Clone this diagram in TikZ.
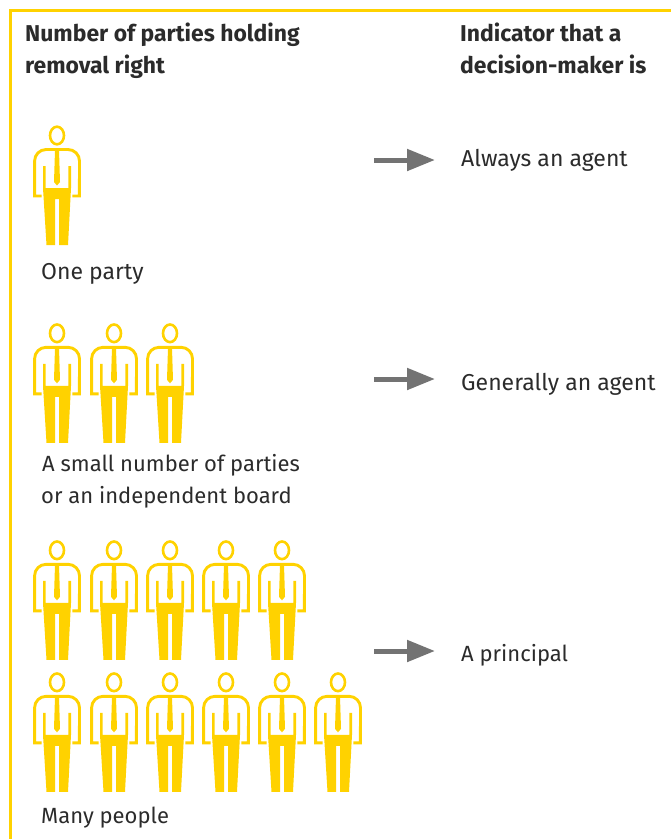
\documentclass[tikz,border=0pt]{standalone}
\usepackage{fontspec}
\setmainfont{Fira Sans}
\usetikzlibrary{arrows.meta}
\definecolor{eyyellow}{HTML}{FFD200}
\definecolor{eygray}{HTML}{737373}
\definecolor{eytext}{HTML}{2B2B2B}
\tikzset{
  x=1pt,y=-1pt,
  frameline/.style={draw=eyyellow,line width=3pt},
  label/.style={anchor=base west,inner sep=0pt,text=eytext,font=\fontsize{22}{27}\selectfont},
  widelabel/.style={label,font=\fontsize{23}{27}\selectfont},
  headlabel/.style={label,font=\fontsize{22.9}{32}\selectfont\bfseries},
  flow/.style={draw=eygray,line width=5pt,-{Triangle[length=28pt,width=21pt]}},
  person/.pic={
    \begin{scope}[yshift=135.7pt]
    \draw[eyyellow,line width=2.6pt] (0,135.5) ellipse[x radius=7,y radius=8.8];
    \draw[eyyellow,line width=2.9pt,line join=miter] (-15.4,196) -- (-22.4,196) -- (-22.4,161) arc[start angle=180,end angle=270,radius=11.5] -- (11,149.5) arc[start angle=270,end angle=360,radius=11.5] -- (22.4,196) -- (15.4,196);
    \fill[eyyellow] (-14,166) -- (-11.4,166) -- (-11.4,188) -- (11.4,188) -- (11.4,166) -- (14,166) -- (14,188) -- (11,245) -- (2,245) -- (2,199) -- (-2,199) -- (-2,245) -- (-10.5,245) -- (-14,188) -- cycle;
    \fill[eyyellow] (-2,150) -- (2,150) -- (3,182) -- (0,185.5) -- (-3,182) -- cycle;
    \end{scope}
  }
}
\begin{document}
\begin{tikzpicture}
\useasboundingbox (0,0) rectangle (671,839);
\coordinate (frameBL) at (10,839);
\coordinate (frameTL) at (10,10);
\coordinate (frameTR) at (671,10);
\draw[frameline] (frameBL) -- (frameTL) -- (frameTR);

\node[headlabel] (h1a) at (25,41) {Number of parties holding};
\node[headlabel] (h1b) at (25,73) {removal right};
\node[headlabel] (h2a) at (460,41) {Indicator that a};
\node[headlabel] (h2b) at (460,73) {decision-maker is};

\foreach \px in {57}{\pic at (\px,135.7) {person};}
\foreach \px in {57,114,170}{\pic at (\px,333.5) {person};}
\foreach \px in {57,114,170,226,282}{\pic at (\px,550.5) {person};}
\foreach \px in {57,114,170,226,282,338}{\pic at (\px,682.5) {person};}

\node[widelabel] (l1) at (41,279) {One party};
\node[label] (l2a) at (42,471) {A small number of parties};
\node[label] (l2b) at (41,503) {or an independent board};
\node[label] (l3) at (41,823) {Many people};

\node[widelabel] (r1) at (461,166) {Always an agent};
\node[widelabel] (r2) at (461,390) {Generally an agent};
\node[label] (r3) at (461,661) {A principal};

\coordinate (a1s) at (374,160); \coordinate (a1e) at (435,160);
\coordinate (a2s) at (374,379); \coordinate (a2e) at (435,379);
\coordinate (a3s) at (374,651); \coordinate (a3e) at (435,651);
\draw[flow] (a1s) -- (a1e);
\draw[flow] (a2s) -- (a2e);
\draw[flow] (a3s) -- (a3e);
\end{tikzpicture}
\end{document}
